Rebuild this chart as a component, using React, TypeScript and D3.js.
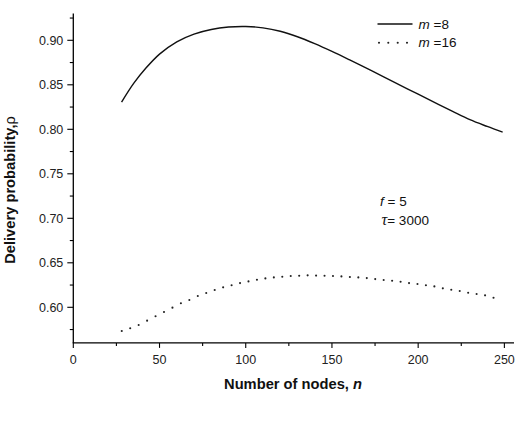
import React from "react";
import * as d3 from "d3";

const solidN = [28, 35, 42, 50, 60, 70, 80, 90, 100, 110, 120, 130, 140, 150, 160, 170, 180, 190, 200, 210, 220, 230, 240, 249];
const solidV = [0.8305, 0.8515, 0.8685, 0.8845, 0.8983, 0.907, 0.9122, 0.9149, 0.9155, 0.914, 0.9102, 0.904, 0.8962, 0.8875, 0.8782, 0.8686, 0.859, 0.8492, 0.8394, 0.8297, 0.8201, 0.8108, 0.8032, 0.7968];

const dottedN = [28.1, 33.0, 37.9, 42.8, 47.7, 52.6, 57.5, 62.4, 67.3, 72.2, 77.1, 82.0, 86.9, 91.8, 96.7, 101.6, 106.5, 111.4, 116.3, 121.2, 126.1, 131.0, 135.9, 140.8, 145.7, 150.6, 155.5, 160.4, 165.3, 170.2, 175.1, 180.0, 184.9, 189.8, 194.7, 199.6, 204.5, 209.4, 214.3, 219.2, 224.1, 229.0, 233.9, 238.8, 243.7];
const dottedV = [0.5734, 0.5764, 0.5801, 0.585, 0.5899, 0.5947, 0.5996, 0.6045, 0.6082, 0.6127, 0.616, 0.6194, 0.6224, 0.6247, 0.6272, 0.6291, 0.6309, 0.6325, 0.6336, 0.6343, 0.6351, 0.6354, 0.6359, 0.6356, 0.6354, 0.6351, 0.6347, 0.634, 0.6336, 0.6328, 0.6317, 0.6306, 0.6298, 0.6287, 0.6272, 0.6261, 0.6247, 0.6235, 0.6213, 0.6197, 0.6183, 0.6164, 0.6149, 0.6134, 0.6108];

const xMajor = [0, 50, 100, 150, 200, 250];
const xMinor = [25, 75, 125, 175, 225];
const yMajor = [0.6, 0.65, 0.7, 0.75, 0.8, 0.85, 0.9];
const yMinor = [0.575, 0.625, 0.675, 0.725, 0.775, 0.825, 0.875, 0.925];

const legendLabels = ["=8", "=16"];

export default function App() {
  const x = d3.scaleLinear().domain([0, 255]).range([73.3, 513]);
  const y = d3.scaleLinear().domain([0.56, 0.93]).range([342.9, 13.6]);
  const line = d3
    .line<number>()
    .x((_, i) => x(solidN[i]))
    .y((v) => y(v))
    .curve(d3.curveCatmullRom.alpha(0.5));
  const font = "Arial, 'Liberation Sans', Helvetica, sans-serif";
  const x0 = x(0);
  const yBase = y(0.56);
  const yTop = y(0.93);
  return (
    <svg
      width={515}
      height={429}
      style={{ position: "absolute", left: 0, top: 0, background: "#fff" }}
      fontFamily={font}
    >
      {/* axes */}
      <line x1={x0} x2={x0} y1={yTop} y2={yBase} stroke="#000" strokeWidth={1.3} />
      <line x1={x0 - 0.6} x2={514} y1={yBase} y2={yBase} stroke="#000" strokeWidth={1.3} />
      {yMajor.map((v) => (
        <g key={"ym" + v}>
          <line x1={x0 - 6} x2={x0} y1={y(v)} y2={y(v)} stroke="#000" strokeWidth={1.1} />
          <text x={x0 - 10} y={y(v)} dy="0.36em" textAnchor="end" fontSize={12.5} fill="#222">
            {v.toFixed(2)}
          </text>
        </g>
      ))}
      {yMinor.map((v) => (
        <line key={"yn" + v} x1={x0 - 3.5} x2={x0} y1={y(v)} y2={y(v)} stroke="#000" strokeWidth={1.1} />
      ))}
      {xMajor.map((v) => (
        <g key={"xm" + v}>
          <line x1={x(v)} x2={x(v)} y1={yBase} y2={yBase + 5} stroke="#000" strokeWidth={1.1} />
          <text x={x(v)} y={364} textAnchor="middle" fontSize={12.5} fill="#222">
            {v}
          </text>
        </g>
      ))}
      {xMinor.map((v) => (
        <line key={"xn" + v} x1={x(v)} x2={x(v)} y1={yBase} y2={yBase + 3} stroke="#000" strokeWidth={1.1} />
      ))}

      {/* series */}
      <path d={line(solidV) || ""} fill="none" stroke="#111" strokeWidth={1.4} />
      {dottedV.map((v, i) => (
        <circle key={"d" + i} cx={x(dottedN[i])} cy={y(v)} r={1.05} fill="#222" />
      ))}

      {/* legend */}
      <line x1={377.5} x2={412.5} y1={24} y2={24} stroke="#111" strokeWidth={1.4} />
      {[379, 388.3, 397.7, 407].map((cx) => (
        <circle key={"ld" + cx} cx={cx} cy={42.7} r={1.05} fill="#222" />
      ))}
      {legendLabels.map((lab, i) => (
        <text key={lab} x={418.5} y={29 + i * 18.3} fontSize={13.5} fill="#111">
          <tspan fontStyle="italic">m</tspan>
          <tspan> {lab}</tspan>
        </text>
      ))}

      {/* annotations */}
      <text x={380} y={206} fontSize={13.5} fill="#111">
        <tspan fontStyle="italic">f</tspan>
        <tspan> = 5</tspan>
      </text>
      <text x={381.5} y={225} fontSize={13.5} fill="#111">
        <tspan fontStyle="italic" fontSize={16} fontFamily="'Liberation Serif', 'DejaVu Serif', serif">τ</tspan>
        <tspan>= 3000</tspan>
      </text>

      {/* axis titles */}
      <text x={293} y={389} textAnchor="middle" fontSize={14.7} fontWeight="bold" fill="#111">
        Number of nodes, <tspan fontStyle="italic">n</tspan>
      </text>
      <text
        transform="translate(14.5,190) rotate(-90)"
        textAnchor="middle"
        fontSize={14.7}
        fontWeight="bold"
        fill="#111"
      >
        Delivery probability,<tspan fontWeight="normal">ρ</tspan>
      </text>
    </svg>
  );
}
